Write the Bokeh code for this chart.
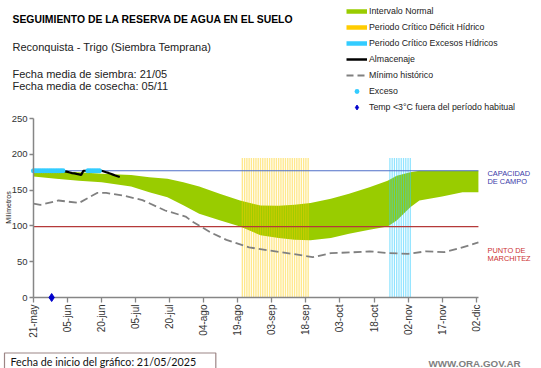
import math
from bokeh.plotting import figure
from bokeh.models import Range1d, FixedTicker, Label, Legend, LegendItem
from bokeh.embed import file_html
from bokeh.resources import INLINE

# ---------------- data ----------------
tick_days = [0, 15, 30, 45, 60, 75, 90, 105, 120, 135, 150, 165, 180, 195]
tick_labels = ["21-may", "05-jun", "20-jun", "05-jul", "20-jul", "04-ago", "19-ago",
               "03-sep", "18-sep", "03-oct", "18-oct", "02-nov", "17-nov", "02-dic"]
y_ticks = [0, 50, 100, 150, 200, 250]

# Intervalo normal (band)
band_days = [0, 10, 20, 30, 43, 51, 59, 66, 73, 82, 91, 100, 108, 115, 122, 131, 139,
             148, 156, 160, 166, 170, 180, 189, 196]
band_upper = [177, 176, 175, 173, 171, 168, 166, 161, 155, 145, 135.5, 128.5, 128, 129.5,
              132, 138, 145, 154, 163, 170, 175, 177, 177, 177, 177]
band_lower = [169, 166, 163, 161, 155, 147, 140, 129, 117, 108, 99, 87, 83, 80.5, 80, 83,
              89, 94.5, 99, 107.5, 126, 135.5, 141, 147, 147]

# Minimo historico
min_days = [0, 3, 11, 20, 28, 32, 40, 48, 58, 67, 70, 78, 85, 95, 104, 114, 123, 131, 140,
            148, 156, 165, 173, 181, 188, 196]
min_values = [131, 129.5, 135.5, 132, 146, 146, 142, 136, 121.5, 113, 106, 91, 80.5, 70,
              65.6, 61, 56.3, 62, 63, 64.5, 62, 61, 64.5, 63.3, 69, 77]

# Almacenaje (daily)
alm_days = list(range(39))
alm_values = [177, 177, 177, 177, 177, 177, 177, 177, 177, 177, 177, 177, 177, 177,
              176.2, 175.4, 174.6, 173.8, 173.3, 172.6, 172, 171.3,
              177, 177, 177, 177, 177, 177, 177, 177, 177,
              176, 175, 174, 172.8, 171.6, 170.4, 169.3, 168.2]

# Exceso (points at field capacity)
exceso_days = [0, 1, 2, 3, 4, 5, 6, 7, 8, 9, 10, 11, 12, 13, 24, 25, 26, 27, 28, 29]
exceso_values = [177] * len(exceso_days)

# Critical periods
deficit_days = list(range(92, 122))
excesos_days = list(range(157, 167))
periodo_top = 195

capacidad = 177
marchitez = 99
x_data_end = 196

temp_days = [8]
temp_values = [0]

# ---------------- layout constants ----------------
W, H = 541, 368
FL = 33               # canvas x of day 0
KX = 2.27             # px per day
Y0W = 297             # canvas y of value 0
KY = 179 / 250        # px per mm

AX = "#868686"
FONT = "Liberation Sans"
GREEN = "#99CC00"
GOLD = "#FFCC00"
CYAN = "#33CCFF"
BLUE_D = "#0000CC"


def dx(wx):
    return (wx - FL) / KX


def dy(wy):
    return (Y0W - wy) / KY


p = figure(width=W, height=H, output_backend="svg", toolbar_location=None,
           x_range=Range1d(dx(0), dx(W)), y_range=Range1d(dy(H), dy(0)),
           min_border_left=0, min_border_right=0, min_border_top=0, min_border_bottom=0)
p.outline_line_color = None
p.grid.visible = False
p.background_fill_color = "white"
p.border_fill_color = "white"

xa = p.xaxis[0]
xa.fixed_location = 0
xa.bounds = (0, x_data_end)
xa.ticker = FixedTicker(ticks=tick_days)
xa.major_label_overrides = {d: l for d, l in zip(tick_days, tick_labels)}
xa.major_label_orientation = math.pi / 2
xa.axis_line_color = AX
xa.axis_line_width = 1.5
xa.major_tick_in = 0
xa.major_tick_out = 5
xa.major_tick_line_color = AX
xa.major_tick_line_width = 1.3
xa.minor_tick_line_color = None
xa.major_label_standoff = 2
xa.major_label_text_font = FONT
xa.major_label_text_font_size = "10px"
xa.major_label_text_color = "#333333"

ya = p.yaxis[0]
ya.fixed_location = 0
ya.bounds = (0, 250)
ya.ticker = FixedTicker(ticks=y_ticks)
ya.axis_line_color = AX
ya.axis_line_width = 1.5
ya.major_tick_out = 4
ya.major_tick_in = 0
ya.major_tick_line_color = AX
ya.major_tick_line_width = 1.3
ya.minor_tick_line_color = None
ya.major_label_standoff = 2
ya.major_label_text_font = FONT
ya.major_label_text_font_size = "9.5px"
ya.major_label_text_color = "#333333"

# ---------------- glyphs ----------------
p.varea(x=band_days, y1=band_lower, y2=band_upper, fill_color=GREEN)
p.vbar(x=deficit_days, top=periodo_top, bottom=0, width=0.6,
       fill_color=GOLD, fill_alpha=0.45, line_color=None)
p.vbar(x=excesos_days, top=periodo_top, bottom=0, width=0.55,
       fill_color=CYAN, fill_alpha=0.55, line_color=None)

p.line([0, x_data_end], [capacidad, capacidad], line_color="#4F6FC8", line_width=1.1)
p.line([0, x_data_end], [marchitez, marchitez], line_color="#B53A3A", line_width=1.1)

p.line(min_days, min_values, line_color="#808080", line_width=1.8, line_dash="8 4")
p.line(alm_days, alm_values, line_color="black", line_width=2.2)
p.scatter(exceso_days, exceso_values, marker="circle", size=5,
          fill_color=CYAN, line_color=None)
r_temp = p.scatter(temp_days, temp_values, marker="diamond", size=8,
                   fill_color=BLUE_D, line_color=BLUE_D)
r_temp.level = "overlay"

# ---------------- legend ----------------
nan = float("nan")
r_band = p.line([nan], [nan], line_color=GREEN, line_width=4.5)
r_def = p.line([nan], [nan], line_color=GOLD, line_width=4.5)
r_exc = p.line([nan], [nan], line_color=CYAN, line_width=4.5)
r_alm = p.line([nan], [nan], line_color="black", line_width=2.5)
r_min = p.line([nan], [nan], line_color="#808080", line_width=2, line_dash="7 4")
r_exo = p.scatter([nan], [nan], marker="circle", size=4, fill_color=CYAN, line_color=None)
r_tmp = p.scatter([nan], [nan], marker="diamond", size=6, fill_color=BLUE_D,
                  line_color=BLUE_D)

legend = Legend(items=[
    LegendItem(label="Intervalo Normal", renderers=[r_band]),
    LegendItem(label="Periodo Crítico Déficit Hídrico", renderers=[r_def]),
    LegendItem(label="Periodo Crítico Excesos Hídricos", renderers=[r_exc]),
    LegendItem(label="Almacenaje", renderers=[r_alm]),
    LegendItem(label="Mínimo histórico", renderers=[r_min]),
    LegendItem(label="Exceso", renderers=[r_exo]),
    LegendItem(label="Temp <3°C fuera del período habitual", renderers=[r_tmp]),
], location=(346, H - 113), orientation="vertical",
    glyph_width=21, glyph_height=12, label_height=12, label_standoff=2, spacing=4,
    padding=0, margin=0, border_line_color=None, background_fill_alpha=0,
    label_text_font=FONT, label_text_font_size="8.8px", label_text_color="#222222")
p.add_layout(legend, "center")


# ---------------- texts ----------------
def label(wx, wy, text, size, color="#111111", bold=False, font=FONT,
          align="left", baseline="alphabetic", angle=0.0, **kw):
    p.add_layout(Label(x=dx(wx), y=dy(wy), text=text, text_font=font, text_font_size=size,
                       text_color=color, text_font_style="bold" if bold else "normal",
                       text_align=align, text_baseline=baseline, angle=angle, **kw))


label(12, 19, "SEGUIMIENTO DE LA RESERVA DE AGUA  EN EL SUELO", "10.4px", bold=True,
      color="#000000")
label(12, 46.5, "Reconquista  - Trigo (Siembra Temprana)", "11px", color="#222222")
label(12, 73.3, "Fecha media de siembra: 21/05", "11px", color="#222222")
label(12, 85, "Fecha media de cosecha: 05/11", "11px", color="#222222")

label(487, 172.7, "CAPACIDAD", "7.4px", color="#3A3AA8")
label(487, 181, "DE  CAMPO", "7.4px", color="#3A3AA8")
label(487, 250, "PUNTO  DE", "7.4px", color="#CC3333")
label(487, 258.3, "MARCHITEZ", "7.4px", color="#CC3333")

label(8, 207, "Milímetros", "7px", color="#222222", align="center",
      baseline="middle", angle=math.pi / 2)

label(4, 361, "Fecha de inicio del gráfico:  21/05/2025", "10.7px", font="Lato",
      color="#111111", baseline="middle", border_line_color="#9C8585",
      border_line_width=1.2, background_fill_color="white",
      padding=dict(left=6, right=17, top=2, bottom=2))
label(428, 363, "WWW.ORA.GOV.AR", "9.8px", bold=True, color="#7F7F7F",
      baseline="middle")

open("out.html", "w").write(file_html(p, INLINE))
